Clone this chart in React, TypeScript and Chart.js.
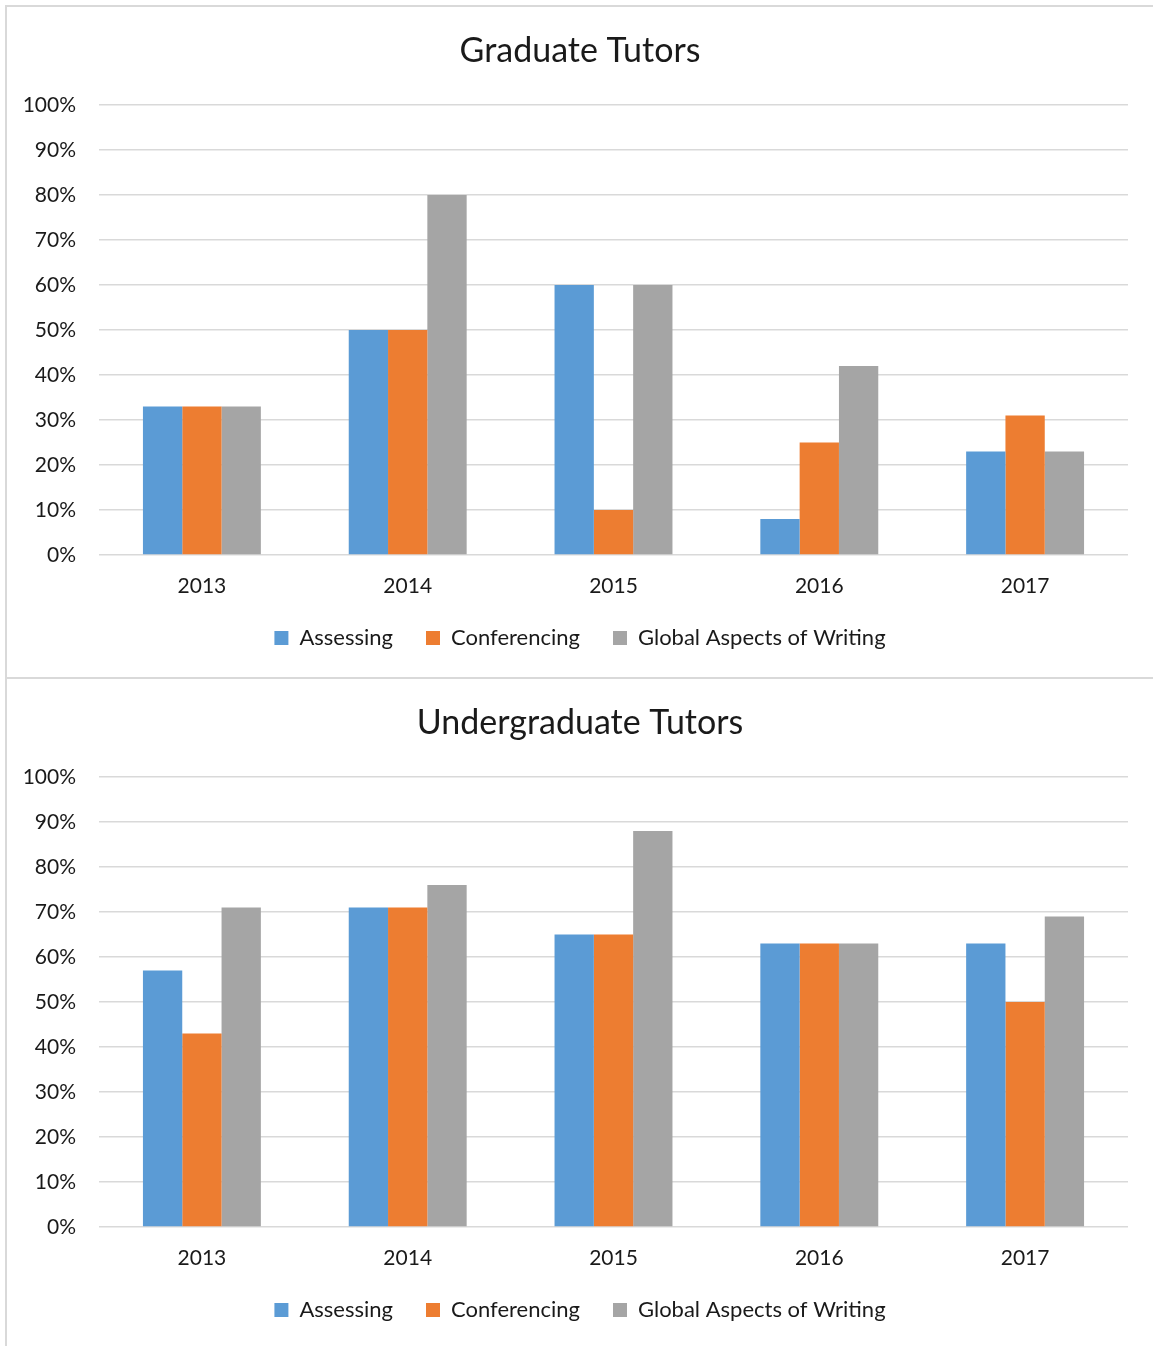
import React, { useEffect, useRef } from "react";
import { Chart, registerables } from "chart.js";

Chart.register(...registerables);

const categories = ["2013", "2014", "2015", "2016", "2017"];
const seriesNames = ["Assessing", "Conferencing", "Global Aspects of Writing"];
const seriesColors = ["#5B9BD5", "#ED7D31", "#A5A5A5"];

const gradAssessing = [33, 50, 60, 8, 23];
const gradConferencing = [33, 50, 10, 25, 31];
const gradGlobal = [33, 80, 60, 42, 23];

const ugAssessing = [57, 71, 65, 63, 63];
const ugConferencing = [43, 71, 65, 63, 50];
const ugGlobal = [71, 76, 88, 63, 69];

const yTicks = [0, 10, 20, 30, 40, 50, 60, 70, 80, 90, 100];

const FONT = "Lato, 'Open Sans', sans-serif";
const TEXT_COLOR = "#1a1a1a";
const GRID_COLOR = "#d9d9d9";

const TITLE_SIZE = 34;
const TICK_SIZE = 21;
const LEGEND_SIZE = 22;
const LEGEND_PAD = 33;
const PLOT_TOP = 98;
const PLOT_BOTTOM = 548;
const TITLE_CENTER = 44;
const LEGEND_CENTER = 631;
const XLABEL_CENTER = 579;

function BarChart({ title, values, width, height }: { title: string; values: number[][]; width: number; height: number }) {
  const ref = useRef<HTMLCanvasElement | null>(null);
  useEffect(() => {
    if (!ref.current) return;
    const legendHeight = LEGEND_SIZE + LEGEND_PAD + 10;
    const bottomPad = height - LEGEND_CENTER - (legendHeight - LEGEND_PAD - LEGEND_SIZE / 2);
    const xAxisHeight = height - bottomPad - legendHeight - PLOT_BOTTOM;
    const titleLH = TITLE_SIZE * 1.2;
    const titlePadTop = TITLE_CENTER - titleLH / 2;
    const titlePadBottom = PLOT_TOP - titlePadTop - titleLH;
    const xPad = XLABEL_CENTER - PLOT_BOTTOM - (TICK_SIZE * 1.2) / 2;

    const chart = new Chart(ref.current, {
      type: "bar",
      data: {
        labels: categories,
        datasets: seriesNames.map((name, i) => ({
          label: name,
          data: values[i],
          backgroundColor: seriesColors[i],
          borderWidth: 0,
          barPercentage: 1,
          categoryPercentage: 0.573,
        })),
      },
      options: {
        animation: false,
        responsive: false,
        maintainAspectRatio: false,
        layout: { padding: { left: 0, right: 0, top: 0, bottom: bottomPad } },
        plugins: {
          title: {
            display: true,
            text: title,
            color: TEXT_COLOR,
            font: { family: FONT, size: TITLE_SIZE, weight: "normal" },
            padding: { top: titlePadTop, bottom: titlePadBottom },
          },
          legend: {
            display: true,
            position: "bottom",
            labels: {
              color: TEXT_COLOR,
              font: { family: FONT, size: LEGEND_SIZE },
              boxWidth: 14,
              boxHeight: 14,
              padding: LEGEND_PAD,
            },
          },
          tooltip: { enabled: false },
        },
        scales: {
          x: {
            grid: { display: false, drawTicks: false },
            border: { display: false },
            ticks: {
              color: TEXT_COLOR,
              font: { family: FONT, size: TICK_SIZE },
              padding: xPad,
              maxRotation: 0,
            },
            afterFit: (scale: any) => {
              scale.height = xAxisHeight;
            },
          },
          y: {
            min: 0,
            max: 100,
            afterBuildTicks: (scale: any) => {
              scale.ticks = yTicks.map((v) => ({ value: v }));
            },
            grid: { color: GRID_COLOR, lineWidth: 1.5, drawTicks: false },
            border: { display: false },
            ticks: {
              color: TEXT_COLOR,
              font: { family: FONT, size: TICK_SIZE },
              padding: 23,
              callback: (v: any) => v + "%",
            },
            afterFit: (scale: any) => {
              scale.width = 92;
            },
          },
          yRight: {
            position: "right",
            display: true,
            grid: { display: false, drawTicks: false },
            border: { display: false },
            ticks: { display: false },
            afterFit: (scale: any) => {
              scale.width = 25;
            },
          },
        },
      },
    } as any);
    return () => chart.destroy();
  }, [title, values, width, height]);
  return <canvas ref={ref} width={width} height={height} style={{ display: "block", width, height }} />;
}

export default function App() {
  return (
    <div style={{ position: "absolute", left: 0, top: 0, width: 1153, height: 1346, background: "#fff", overflow: "hidden" }}>
      <div
        style={{
          position: "absolute",
          left: 5,
          top: 5,
          width: 1148,
          height: 674,
          borderLeft: `2px solid ${GRID_COLOR}`,
          borderTop: `2px solid ${GRID_COLOR}`,
          boxSizing: "border-box",
        }}
      >
        <BarChart title="Graduate Tutors" values={[gradAssessing, gradConferencing, gradGlobal]} width={1146} height={670} />
      </div>
      <div
        style={{
          position: "absolute",
          left: 5,
          top: 677,
          width: 1148,
          height: 669,
          borderLeft: `2px solid ${GRID_COLOR}`,
          borderTop: `2px solid ${GRID_COLOR}`,
          boxSizing: "border-box",
        }}
      >
        <BarChart title="Undergraduate Tutors" values={[ugAssessing, ugConferencing, ugGlobal]} width={1146} height={667} />
      </div>
    </div>
  );
}
